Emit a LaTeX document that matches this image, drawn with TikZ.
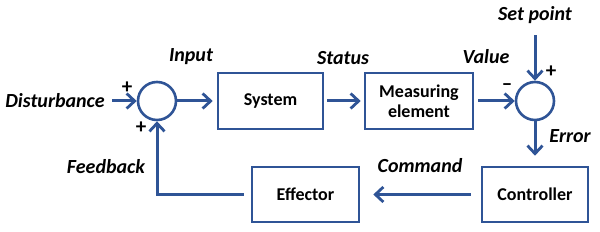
\documentclass[tikz,border=0pt]{standalone}
\usepackage{fontspec}
\setmainfont{Carlito}
\usetikzlibrary{arrows.meta,positioning}
\definecolor{ctrlblue}{RGB}{47,84,150}

\begin{document}
\begin{tikzpicture}[x=1pt,y=-1pt,
  font=\bfseries\fontsize{18}{20}\selectfont,
  block/.style={draw=ctrlblue,line width=2.6pt,minimum width=105pt,minimum height=56pt,align=center,inner sep=2pt},
  summer/.style={circle,draw=ctrlblue,line width=2.6pt,minimum size=38pt,inner sep=0pt},
  line/.style={-{Straight Barb[length=8pt,width=15pt,line width=2.8pt]},line width=3pt,draw=ctrlblue},
  tag/.style={font=\bfseries\itshape\fontsize{20}{22}\selectfont},
  sign/.style={font=\bfseries\fontsize{21}{21}\selectfont}]
\useasboundingbox (0,0) rectangle (600,232);
% summing points and blocks
\node[summer] (sumin) at (157,101) {};
\node[block] (system) at (270.5,101) {System};
\node[block,minimum width=108pt] (measure) at (419,101) {Measuring\\element};
\node[summer] (sumerr) at (535,101) {};
\node[block,minimum width=106pt,minimum height=55pt] (controller) at (535,194.5) {Controller};
\node[block,minimum width=107pt,minimum height=55pt] (effector) at (305.5,194.5) {Effector};
% signal names
\node[tag] (disturb) at (55,101) {Disturbance};
\node[tag] (input) at (191,57) {Input};
\node[tag] (status) at (343,58) {Status};
\node[tag] (value) at (486,57) {Value};
\node[tag] (setpt) at (535,15) {Set point};
\node[tag] (error) at (570,136) {Error};
\node[tag] (command) at (420,166) {Command};
\node[tag] (feedback) at (106,167) {Feedback};
% signs
\node[sign] (plusdist) at (127,88) {+};
\node[sign] (plusfb) at (141,128) {+};
\node[sign] (minusval) at (507,87) {--};
\node[sign] (plusset) at (551,72) {+};
% connectors
\draw[line,shorten <=4pt] (disturb.east) -- (sumin.west);
\draw[line,shorten >=4pt] (sumin.east) -- (system.west);
\draw[line,shorten <=3pt,shorten >=3pt] (system.east) -- (measure.west);
\draw[line,shorten <=4pt] (measure.east) -- (sumerr.west);
\draw[line,shorten <=8pt] (setpt.south -| sumerr.north) -- (sumerr.north);
\draw[line,shorten >=10pt] (sumerr.south) -- (controller.north);
\draw[line,shorten <=10pt,shorten >=13pt] (controller.west) -- (effector.east);
\draw[line,shorten <=7pt] (effector.west) -| (sumin.south);
\end{tikzpicture}
\end{document}
